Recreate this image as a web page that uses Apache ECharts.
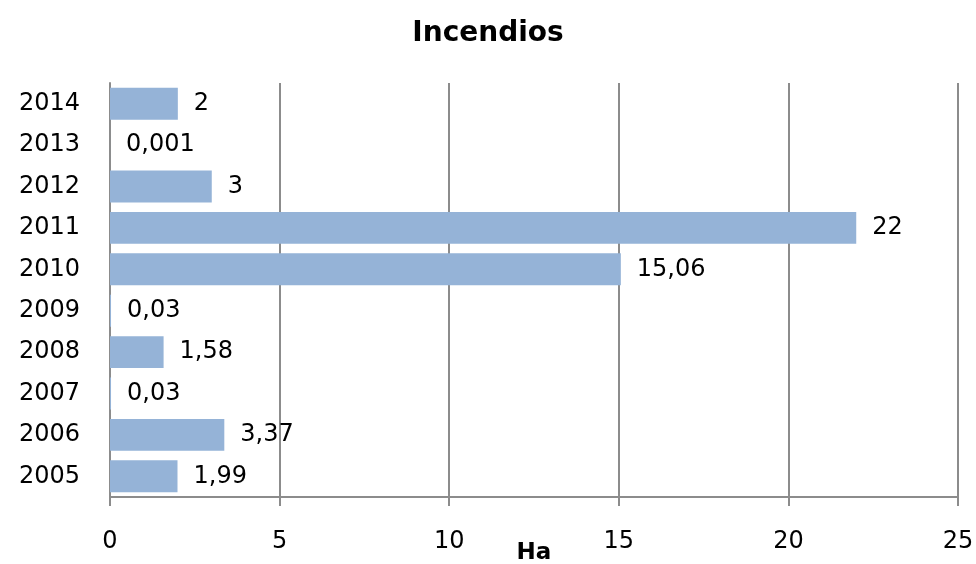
<!DOCTYPE html>
<html><head><meta charset="utf-8">
<script src="https://cdn.jsdelivr.net/npm/echarts@6/dist/echarts.min.js"></script>
<style>html,body{margin:0;padding:0;background:#fff}#c{width:976px;height:564px}</style>
</head><body><div id="c"></div>
<script>
const years = ['2005','2006','2007','2008','2009','2010','2011','2012','2013','2014'];
const hectares = [1.99, 3.37, 0.03, 1.58, 0.03, 15.06, 22, 3, 0.001, 2];
const labels = ['1,99','3,37','0,03','1,58','0,03','15,06','22','3','0,001','2'];
const xTicks = [0,5,10,15,20,25];

const FONT = 'DejaVu Sans';
const chart = echarts.init(document.getElementById('c'));
chart.setOption({
  animation: false,
  title: {text: 'Incendios', left: 'center', top: 15,
    textStyle: {fontFamily: FONT, fontSize: 28, fontWeight: 'bold', color: '#000'}},
  grid: {left: 110, right: 18, top: 83, bottom: 67, containLabel: false, outerBoundsMode: 'none'},
  xAxis: {
    type: 'value', min: xTicks[0], max: xTicks[xTicks.length-1], interval: 5,
    name: 'Ha', nameLocation: 'middle', nameGap: 45, nameMoveOverlap: false,
    nameTextStyle: {fontFamily: FONT, fontSize: 23, fontWeight: 'bold', color: '#000', verticalAlign: 'top'},
    axisLine: {show: true, lineStyle: {color: '#8c8c8c', width: 2}},
    axisTick: {show: true, length: 9, lineStyle: {color: '#8c8c8c', width: 2}},
    axisLabel: {fontFamily: FONT, fontSize: 24, color: '#000', margin: 33},
    splitLine: {show: true, lineStyle: {color: '#8c8c8c', width: 2}}
  },
  yAxis: {
    type: 'category', data: years,
    axisLine: {show: true, lineStyle: {color: '#8c8c8c', width: 2}},
    axisTick: {show: false},
    axisLabel: {fontFamily: FONT, fontSize: 24, color: '#000', margin: 30},
    splitLine: {show: false}
  },
  series: [{
    type: 'bar', data: hectares, barCategoryGap: '23%',
    itemStyle: {color: '#95b3d7'},
    label: {show: true, position: 'right', distance: 16,
      fontFamily: FONT, fontSize: 24, color: '#000',
      formatter: p => labels[p.dataIndex]}
  }]
});
</script></body></html>
